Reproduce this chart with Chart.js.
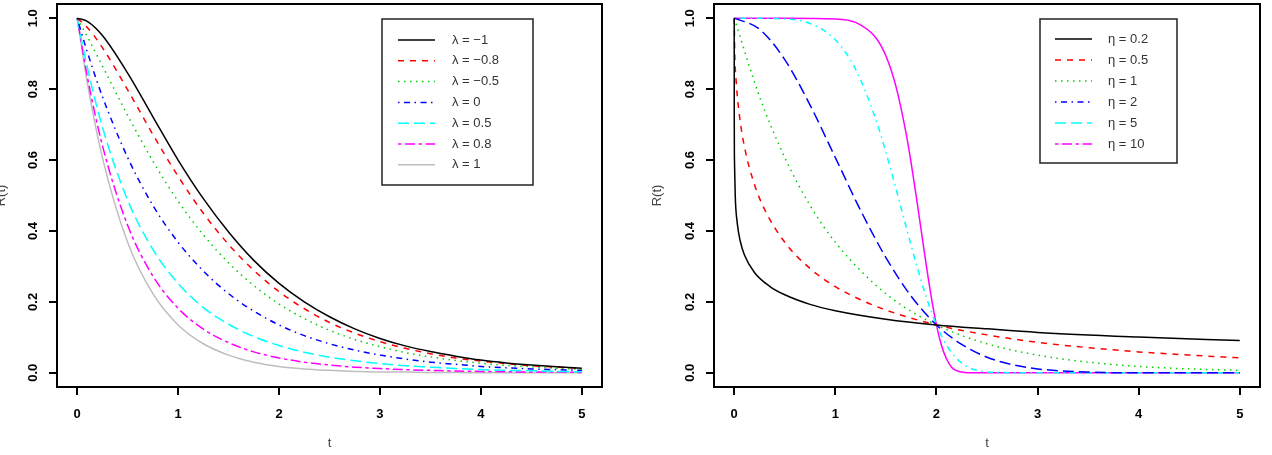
<!DOCTYPE html>
<html>
<head>
<meta charset="utf-8">
<script src="https://cdn.jsdelivr.net/npm/chart.js@4/dist/chart.umd.min.js"></script>
<style>
	html, body { margin: 0; padding: 0; background: #fff; }
	#wrap { position: relative; width: 1272px; height: 455px; overflow: hidden; }
	#wrap canvas { position: absolute; top: 0; }
</style>
</head>
<body>
<div id="wrap">
	<canvas id="leftChart" width="636" height="455" style="left:0"></canvas>
	<canvas id="rightChart" width="636" height="455" style="left:636px"></canvas>
</div>
<script>
// axis ticks (both panels)
const xTicks = [0, 1, 2, 3, 4, 5];
const yTicks = [0, 0.2, 0.4, 0.6, 0.8, 1.0];

// left panel: R(t) for several lambda
const tLeft = [0, 0.1, 0.25, 0.5, 0.75, 1, 1.25, 1.5, 1.75, 2, 2.25, 2.5, 2.75, 3, 3.25, 3.5, 3.75, 4, 4.25, 4.5, 4.75, 5];
const lambdaLabels = ['λ = −1', 'λ = −0.8', 'λ = −0.5', 'λ = 0', 'λ = 0.5', 'λ = 0.8', 'λ = 1'];
const rLamM1 = [1, 0.991, 0.951, 0.845, 0.722, 0.600, 0.491, 0.397, 0.317, 0.252, 0.200, 0.158, 0.124, 0.097, 0.076, 0.060, 0.047, 0.036, 0.028, 0.022, 0.017, 0.013];
const rLamM08 = [1, 0.974, 0.917, 0.798, 0.672, 0.554, 0.450, 0.362, 0.289, 0.229, 0.181, 0.142, 0.112, 0.088, 0.069, 0.054, 0.042, 0.033, 0.026, 0.020, 0.016, 0.012];
const rLamM05 = [1, 0.948, 0.865, 0.726, 0.597, 0.484, 0.389, 0.310, 0.246, 0.194, 0.153, 0.120, 0.094, 0.074, 0.057, 0.045, 0.035, 0.027, 0.021, 0.017, 0.013, 0.010];
const rLam0 = [1, 0.905, 0.779, 0.607, 0.472, 0.368, 0.287, 0.223, 0.174, 0.135, 0.105, 0.082, 0.064, 0.050, 0.039, 0.030, 0.024, 0.018, 0.014, 0.011, 0.009, 0.007];
const rLam05 = [1, 0.862, 0.693, 0.487, 0.348, 0.252, 0.184, 0.137, 0.102, 0.077, 0.058, 0.044, 0.034, 0.026, 0.020, 0.016, 0.012, 0.009, 0.007, 0.006, 0.004, 0.003];
const rLam08 = [1, 0.836, 0.641, 0.416, 0.273, 0.182, 0.123, 0.085, 0.059, 0.042, 0.030, 0.022, 0.016, 0.012, 0.009, 0.007, 0.005, 0.004, 0.003, 0.002, 0.002, 0.001];
const rLam1 = [1, 0.819, 0.607, 0.368, 0.223, 0.135, 0.082, 0.050, 0.030, 0.018, 0.011, 0.007, 0.004, 0.002, 0.002, 0.001, 0.001, 0, 0, 0, 0, 0];

// right panel: R(t) for several eta
const etaLabels = ['η = 0.2', 'η = 0.5', 'η = 1', 'η = 2', 'η = 5', 'η = 10'];
const tEta02 = [0, 0.0002, 0.002, 0.01, 0.03, 0.06, 0.1, 0.2, 0.35, 0.5, 0.75, 1, 1.5, 2, 2.5, 3, 4, 5];
const rEta02 = [1, 0.728, 0.605, 0.500, 0.422, 0.371, 0.333, 0.283, 0.244, 0.220, 0.193, 0.175, 0.151, 0.135, 0.124, 0.114, 0.101, 0.091];
const tEta05 = [0, 0.005, 0.02, 0.05, 0.1, 0.2, 0.3, 0.5, 0.75, 1, 1.25, 1.5, 2, 2.5, 3, 3.5, 4, 4.5, 5];
const rEta05 = [1, 0.905, 0.819, 0.729, 0.639, 0.531, 0.461, 0.368, 0.294, 0.243, 0.206, 0.177, 0.135, 0.107, 0.086, 0.071, 0.059, 0.050, 0.042];
const tEta1 = [0, 0.25, 0.5, 0.75, 1, 1.5, 2, 2.5, 3, 3.5, 4, 4.5, 5];
const rEta1 = [1, 0.779, 0.607, 0.472, 0.368, 0.223, 0.135, 0.082, 0.050, 0.030, 0.018, 0.011, 0.007];
const tEta2 = [0, 0.25, 0.5, 0.75, 1, 1.25, 1.5, 1.75, 2, 2.25, 2.5, 2.75, 3, 3.5, 4, 4.5, 5];
const rEta2 = [1, 0.969, 0.883, 0.755, 0.607, 0.458, 0.325, 0.216, 0.135, 0.080, 0.044, 0.023, 0.011, 0.002, 0, 0, 0];
const tEta5 = [0, 0.5, 0.75, 1, 1.2, 1.4, 1.5, 1.6, 1.7, 1.8, 1.9, 2, 2.1, 2.2, 2.3, 2.4, 2.6, 3, 4, 5];
const rEta5 = [1, 0.998, 0.985, 0.939, 0.856, 0.715, 0.622, 0.519, 0.412, 0.307, 0.213, 0.135, 0.078, 0.040, 0.018, 0.007, 0.001, 0, 0, 0];
const tEta10 = [0, 0.5, 1, 1.2, 1.4, 1.5, 1.6, 1.7, 1.75, 1.8, 1.85, 1.9, 1.95, 2, 2.05, 2.1, 2.15, 2.2, 2.25, 2.3, 2.4, 3, 4, 5];
const rEta10 = [1, 1, 0.998, 0.988, 0.945, 0.894, 0.807, 0.675, 0.591, 0.498, 0.400, 0.302, 0.212, 0.135, 0.077, 0.039, 0.016, 0.006, 0.002, 0, 0, 0, 0, 0];

const FONT = 'Liberation Sans, Arial, sans-serif';

// R line types
const DASH = {
	solid: [],
	dashed: [6, 6],
	dotted: [1.5, 4.5],
	dotdash: [1.5, 4.5, 6, 4.5],
	longdash: [11, 5],
	twodash: [3.5, 3.5, 10, 3.5]
};

function points(ts, rs)
{
	return ts.map((t, i) => ({ x: t, y: rs[i] }));
}

function series(label, ts, rs, color, dash, legendDash)
{
	return {
		label: label,
		data: points(ts, rs),
		borderColor: color,
		borderWidth: 1.5,
		borderDash: dash,
		legendDash: legendDash || dash,
		pointRadius: 0,
		fill: false,
		cubicInterpolationMode: 'monotone'
	};
}

// box round the plot region, as R's box()
const frame = {
	id: 'frame',
	afterDraw(chart)
	{
		const a = chart.chartArea;
		const ctx = chart.ctx;
		ctx.save();
		ctx.strokeStyle = '#000';
		ctx.lineWidth = 2;
		ctx.strokeRect(a.left, a.top, a.right - a.left, a.bottom - a.top);
		ctx.restore();
	}
};

// R style legend with a border, placed by pixel
const legendBox = {
	id: 'legendBox',
	afterDatasetsDraw(chart, args, opts)
	{
		const ctx = chart.ctx;
		ctx.save();
		ctx.fillStyle = '#fff';
		ctx.fillRect(opts.x, opts.y, opts.w, opts.h);
		ctx.strokeStyle = '#222';
		ctx.lineWidth = 1.5;
		ctx.strokeRect(opts.x, opts.y, opts.w, opts.h);
		ctx.font = '13px ' + FONT;
		ctx.textBaseline = 'middle';
		chart.data.datasets.forEach((ds, i) => {
			let y = opts.y + opts.first + i * opts.row;
			ctx.strokeStyle = ds.borderColor;
			ctx.lineWidth = ds.borderWidth;
			ctx.setLineDash(ds.legendDash);
			ctx.beginPath();
			ctx.moveTo(opts.x + opts.line0, y);
			ctx.lineTo(opts.x + opts.line1, y);
			ctx.stroke();
			ctx.setLineDash([]);
			ctx.fillStyle = '#333';
			ctx.fillText(ds.label, opts.x + opts.text, y);
		});
		ctx.restore();
	}
};

function makeChart(id, datasets, yWidth, rightPad, yTitlePad, legend)
{
	return new Chart(document.getElementById(id), {
		type: 'line',
		data: { datasets: datasets },
		plugins: [frame, legendBox],
		options: {
			responsive: false,
			animation: false,
			layout: { padding: { left: 0, right: rightPad, top: 4, bottom: 0 } },
			plugins: {
				legend: { display: false },
				tooltip: { enabled: false },
				legendBox: legend
			},
			scales: {
				x: {
					type: 'linear',
					min: -0.2,
					max: 5.2,
					afterBuildTicks: (s) => { s.ticks = xTicks.map(v => ({ value: v })); },
					afterFit: (s) => { s.height = 68; s.paddingLeft = 0; s.paddingRight = 0; },
					grid: { drawOnChartArea: false, drawTicks: true, tickLength: 8, color: '#000', lineWidth: 2 },
					border: { display: false },
					ticks: {
						autoSkip: false, maxRotation: 0, padding: 12, color: '#000',
						font: { family: FONT, size: 13, weight: 'bold' },
						callback: (v) => String(v)
					},
					title: {
						display: true, text: 't', color: '#444',
						font: { family: FONT, size: 13 },
						padding: { top: 0, bottom: 4 }
					}
				},
				y: {
					min: -0.04,
					max: 1.04,
					afterBuildTicks: (s) => { s.ticks = yTicks.map(v => ({ value: v })); },
					afterFit: (s) => { s.width = yWidth; s.paddingTop = 0; s.paddingBottom = 0; },
					grid: { drawOnChartArea: false, drawTicks: true, tickLength: 8, color: '#000', lineWidth: 2 },
					border: { display: false },
					ticks: {
						autoSkip: false, minRotation: 90, maxRotation: 90, crossAlign: 'center',
						padding: 7, color: '#000',
						font: { family: FONT, size: 13, weight: 'bold' },
						callback: (v) => v.toFixed(1)
					},
					title: {
						display: true, text: 'R(t)', color: '#444',
						font: { family: FONT, size: 13 },
						padding: { top: yTitlePad, bottom: 0 }
					}
				}
			}
		}
	});
}

makeChart('leftChart', [
	series(lambdaLabels[0], tLeft, rLamM1, '#000000', DASH.solid),
	series(lambdaLabels[1], tLeft, rLamM08, '#FF0000', DASH.dashed),
	series(lambdaLabels[2], tLeft, rLamM05, '#00CD00', DASH.dotted),
	series(lambdaLabels[3], tLeft, rLam0, '#0000FF', DASH.dotdash),
	series(lambdaLabels[4], tLeft, rLam05, '#00FFFF', DASH.longdash),
	series(lambdaLabels[5], tLeft, rLam08, '#FF00FF', DASH.twodash),
	series(lambdaLabels[6], tLeft, rLam1, '#BEBEBE', DASH.solid)
], 57, 34, -6, { x: 382, y: 19, w: 151, h: 166, first: 21, row: 20.8, line0: 16, line1: 53, text: 70 });

makeChart('rightChart', [
	series(etaLabels[0], tEta02, rEta02, '#000000', DASH.solid),
	series(etaLabels[1], tEta05, rEta05, '#FF0000', DASH.dashed),
	series(etaLabels[2], tEta1, rEta1, '#00CD00', DASH.dotted),
	series(etaLabels[3], tEta2, rEta2, '#0000FF', DASH.longdash, DASH.dotdash),
	series(etaLabels[4], tEta5, rEta5, '#00FFFF', DASH.dotdash, DASH.longdash),
	series(etaLabels[5], tEta10, rEta10, '#FF00FF', DASH.solid, DASH.twodash)
], 78, 12, 14, { x: 404, y: 19, w: 137, h: 144, first: 20, row: 21, line0: 15, line1: 52, text: 68 });
</script>
</body>
</html>
